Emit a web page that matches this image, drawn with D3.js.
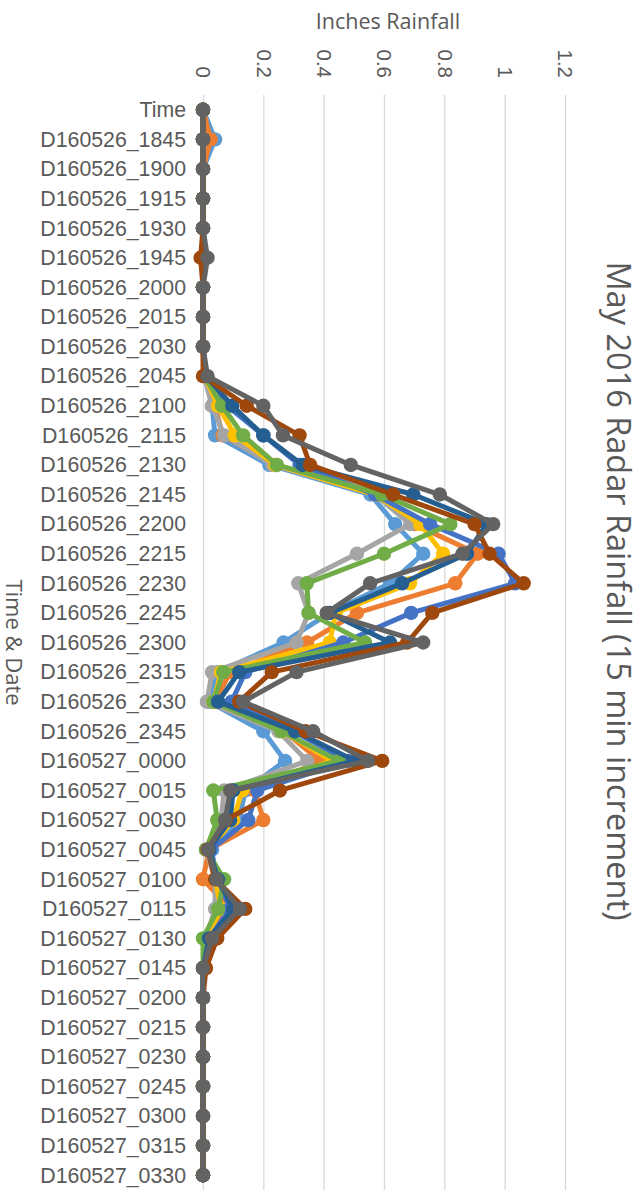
<!DOCTYPE html>
<html>
<head>
<meta charset="utf-8">
<script src="https://cdn.jsdelivr.net/npm/d3@7"></script>
<style>
  html, body { margin: 0; padding: 0; background: #ffffff; }
  svg { display: block; font-family: "Open Sans", sans-serif; }
</style>
</head>
<body>
<svg id="chart" width="642" height="1192"></svg>
<script>
// Time steps (15 minute increments), first entry is the header row
const categories = [
  "Time", "D160526_1845", "D160526_1900", "D160526_1915", "D160526_1930",
  "D160526_1945", "D160526_2000", "D160526_2015", "D160526_2030", "D160526_2045",
  "D160526_2100", "D160526_2115", "D160526_2130", "D160526_2145", "D160526_2200",
  "D160526_2215", "D160526_2230", "D160526_2245", "D160526_2300", "D160526_2315",
  "D160526_2330", "D160526_2345", "D160527_0000", "D160527_0015", "D160527_0030",
  "D160527_0045", "D160527_0100", "D160527_0115", "D160527_0130", "D160527_0145",
  "D160527_0200", "D160527_0215", "D160527_0230", "D160527_0245", "D160527_0300",
  "D160527_0315", "D160527_0330"
];

// Value axis ticks (inches)
const valueTicks = [0, 0.2, 0.4, 0.6, 0.8, 1, 1.2];

// Radar rainfall per cell, inches per 15 min
const radar1 = [0, 0.04, 0, 0, 0, 0, 0, 0, 0, 0.005, 0.03, 0.04, 0.22, 0.555, 0.637, 0.73, 0.62, 0.42, 0.267, 0.05, 0.02, 0.2, 0.272, 0.14, 0.12, 0.03, 0.04, 0.08, 0.01, 0, 0, 0, 0, 0, 0, 0, 0];
const radar2 = [0, 0.025, 0, 0, 0, 0, 0, 0, 0, 0.005, 0.04, 0.065, 0.24, 0.58, 0.70, 0.91, 0.836, 0.51, 0.345, 0.09, 0.04, 0.27, 0.388, 0.172, 0.2, 0.02, 0, 0.09, 0.01, 0, 0, 0, 0, 0, 0, 0, 0];
const radar3 = [0, 0, 0, 0, 0, 0, 0, 0, 0, 0.005, 0.03, 0.07, 0.23, 0.57, 0.687, 0.51, 0.316, 0.35, 0.31, 0.03, 0.013, 0.25, 0.345, 0.07, 0.06, 0.01, 0.04, 0.04, 0.01, 0, 0, 0, 0, 0, 0, 0, 0];
const radar4 = [0, 0, 0, 0, 0, 0, 0, 0, 0, 0.005, 0.05, 0.106, 0.24, 0.57, 0.72, 0.796, 0.686, 0.44, 0.42, 0.06, 0.035, 0.265, 0.428, 0.13, 0.1, 0.02, 0.04, 0.06, 0.01, 0, 0, 0, 0, 0, 0, 0, 0];
const radar5 = [0, 0, 0, 0, 0, 0, 0, 0, 0, 0.005, 0.08, 0.2, 0.32, 0.57, 0.753, 0.98, 1.035, 0.69, 0.465, 0.14, 0.095, 0.3, 0.48, 0.18, 0.15, 0.025, 0.05, 0.09, 0.02, 0, 0, 0, 0, 0, 0, 0, 0];
const radar6 = [0, 0, 0, 0, 0, 0, 0, 0, 0, 0.005, 0.063, 0.133, 0.245, 0.593, 0.82, 0.60, 0.344, 0.35, 0.537, 0.067, 0.035, 0.26, 0.45, 0.034, 0.047, 0.01, 0.07, 0.05, 0, 0, 0, 0, 0, 0, 0, 0, 0];
const radar7 = [0, 0, 0, 0, 0, 0, 0, 0, 0, 0.01, 0.097, 0.2, 0.33, 0.697, 0.94, 0.875, 0.66, 0.42, 0.62, 0.12, 0.05, 0.305, 0.505, 0.1, 0.09, 0.02, 0.05, 0.1, 0.02, 0, 0, 0, 0, 0, 0, 0, 0];
const radar8 = [0, 0, 0, 0, 0, -0.008, 0, 0, 0, 0, 0.145, 0.32, 0.355, 0.63, 0.9, 0.95, 1.063, 0.76, 0.677, 0.228, 0.12, 0.34, 0.594, 0.255, 0.075, 0.015, 0.04, 0.14, 0.047, 0.01, 0, 0, 0, 0, 0, 0, 0];
const radar9 = [0, 0, 0, 0, 0, 0.015, 0, 0, 0, 0.015, 0.2, 0.265, 0.49, 0.785, 0.962, 0.86, 0.554, 0.41, 0.73, 0.31, 0.133, 0.365, 0.547, 0.09, 0.073, 0.017, 0.045, 0.122, 0.03, 0, 0, 0, 0, 0, 0, 0, 0];

const seriesValues = [radar1, radar2, radar3, radar4, radar5, radar6, radar7, radar8, radar9];
const seriesColors = ["#5B9BD5", "#ED7D31", "#A5A5A5", "#FFC000", "#4472C4", "#70AD47", "#255E91", "#9E480E", "#636363"];

const svg = d3.select("#chart");
const textColor = "#595959";

const plot = { left: 203, right: 565, top: 95, bottom: 1190 };

// Value axis runs horizontally, categories run down the page
const x = d3.scaleLinear().domain([0, 1.2]).range([plot.left, plot.right]);
const y = d3.scalePoint().domain(categories).range([plot.top, plot.bottom]).padding(0.5);

// Gridlines + rotated tick labels along the top
const xAxis = svg.append("g")
  .attr("transform", `translate(0,${plot.top})`)
  .call(d3.axisTop(x)
    .tickValues(valueTicks)
    .tickFormat(d => String(d))
    .tickSizeInner(-(plot.bottom - plot.top))
    .tickSizeOuter(0));
xAxis.select(".domain").remove();
xAxis.selectAll(".tick line").attr("stroke", "#D9D9D9").attr("stroke-width", 1.3);
xAxis.selectAll(".tick text")
  .attr("transform", "rotate(90)")
  .attr("x", -17)
  .attr("y", 0)
  .attr("dy", "0.35em")
  .attr("text-anchor", "end")
  .attr("fill", textColor)
  .style("font-size", "20.5px");

// Category labels on the left
const yAxis = svg.append("g")
  .attr("transform", `translate(${plot.left},0)`)
  .call(d3.axisLeft(y).tickSize(0).tickPadding(17));
yAxis.select(".domain").remove();
yAxis.selectAll(".tick text")
  .attr("fill", textColor)
  .style("font-size", "21.3px");

// Lines with circle markers, one group per cell
const line = d3.line()
  .x(d => x(d.v))
  .y(d => y(d.c));

seriesValues.forEach((vals, i) => {
  const pts = vals.map((v, j) => ({ c: categories[j], v }));
  const g = svg.append("g");
  g.append("path")
    .datum(pts)
    .attr("fill", "none")
    .attr("stroke", seriesColors[i])
    .attr("stroke-width", 5)
    .attr("stroke-linejoin", "round")
    .attr("d", line);
  g.selectAll("circle")
    .data(pts)
    .join("circle")
    .attr("cx", d => x(d.v))
    .attr("cy", d => y(d.c))
    .attr("r", 7.2)
    .attr("fill", seriesColors[i]);
});

// Axis titles
svg.append("text")
  .attr("x", (plot.left + plot.right) / 2 + 4)
  .attr("y", 29)
  .attr("text-anchor", "middle")
  .attr("fill", textColor)
  .style("font-size", "21.5px")
  .text("Inches Rainfall");

svg.append("text")
  .attr("transform", `translate(6,${(plot.top + plot.bottom) / 2}) rotate(90)`)
  .attr("text-anchor", "middle")
  .attr("fill", textColor)
  .style("font-size", "22px")
  .text("Time & Date");

// Chart title, running down the right edge
svg.append("text")
  .attr("transform", "translate(607,591) rotate(90)")
  .attr("text-anchor", "middle")
  .attr("fill", textColor)
  .style("font-size", "32.5px")
  .text("May 2016 Radar Rainfall (15 min increment)");
</script>
</body>
</html>
